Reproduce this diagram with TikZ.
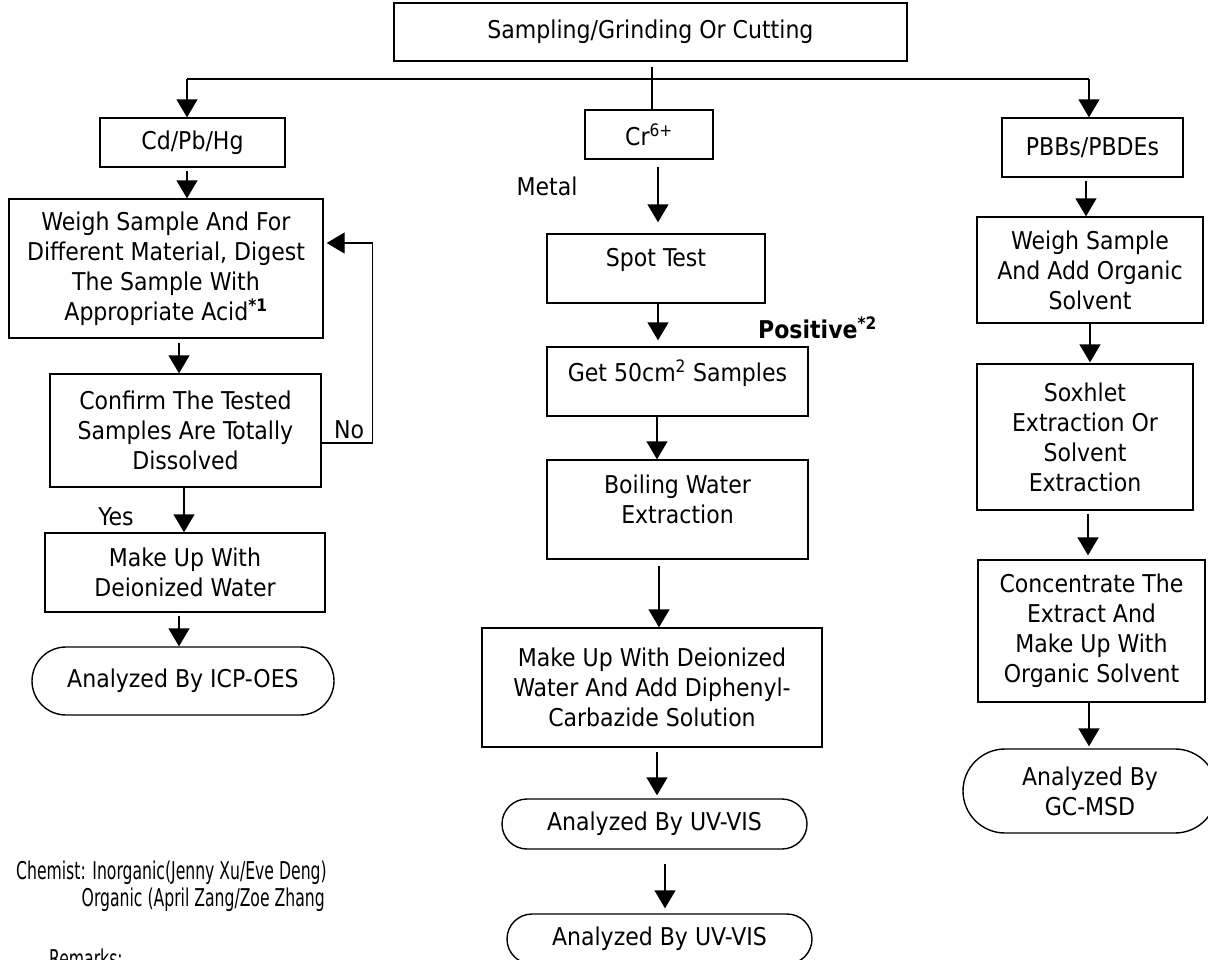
\documentclass[tikz,border=0pt]{standalone}
\usepackage{fontspec}
\setmainfont{DejaVu Sans Condensed}
\usetikzlibrary{arrows.meta}
\tikzset{
  lw/.style={line width=1.4pt},
  txt/.style={font=\fontsize{24.5}{30}\selectfont, align=center, inner sep=0pt},
  box/.style={draw, lw, txt},
  term/.style={draw, lw, txt},
  arr/.style={lw, -{Triangle[width=21pt,length=18pt]}},
}
\newcommand{\narrowtext}[1]{\scalebox{0.71}[1]{#1}}
\begin{document}
\begin{tikzpicture}[x=1pt,y=-1pt]
\useasboundingbox (0,0) rectangle (1208,959);
\clip (0,0) rectangle (1208,959);
% top
\node[box, minimum width=513pt, minimum height=58pt] (top) at (650.5,32) {Sampling/Grinding Or Cutting};
% category boxes
\node[box, minimum width=185pt, minimum height=49pt] (cd) at (192.5,142.5) {Cd/Pb/Hg};
\node[box, minimum width=128pt, minimum height=49pt] (cr) at (649,134.5) {Cr\textsuperscript{6+}};
\node[box, minimum width=181pt, minimum height=59pt] (pbb) at (1092.5,147.5) {PBBs/PBDEs};
% left column
\node[box, minimum width=314pt, minimum height=139pt] (weigh1) at (166,268.5) {Weigh Sample And For\\Different Material, Digest\\The Sample With\\Appropriate Acid\textsuperscript{\bfseries *1}};
\node[box, minimum width=271pt, minimum height=113pt] (confirm) at (185.5,430.5) {Confirm The Tested\\Samples Are Totally\\Dissolved};
\node[box, minimum width=280pt, minimum height=79pt] (make1) at (185,572.5) {Make Up With\\Deionized Water};
\node[term, minimum width=302pt, minimum height=68pt, rounded corners=34pt] (icp) at (183,681) {Analyzed By ICP-OES};
% middle column
\node[box, minimum width=218pt, minimum height=69pt] (spot) at (656,268.5) {};
\node[txt] (spott) at (656,260) {Spot Test};
\node[box, minimum width=261pt, minimum height=69pt] (get) at (677.5,381.5) {};
\node[txt] (gett) at (677.5,373) {Get 50cm\textsuperscript{2} Samples};
\node[box, minimum width=261pt, minimum height=99pt] (boil) at (677.5,509.5) {};
\node[txt] (boilt) at (677.5,499) {Boiling Water\\Extraction};
\node[box, minimum width=340pt, minimum height=119pt] (make2) at (652,687.5) {Make Up With Deionized\\Water And Add Diphenyl-\\Carbazide Solution};
\node[term, minimum width=305pt, minimum height=50pt, rounded corners=25pt] (uv1) at (654.5,824) {Analyzed By UV-VIS};
\node[term, minimum width=305pt, minimum height=50pt, rounded corners=25pt] (uv2) at (659.5,939) {Analyzed By UV-VIS};
% right column
\node[box, minimum width=226pt, minimum height=106pt] (weigh2) at (1090,270) {Weigh Sample\\And Add Organic\\Solvent};
\node[box, minimum width=216pt, minimum height=146pt] (sox) at (1085,437) {Soxhlet\\Extraction Or\\Solvent\\Extraction};
\node[box, minimum width=227pt, minimum height=142pt] (conc) at (1091.5,631) {Concentrate The\\Extract And\\Make Up With\\Organic Solvent};
\node[term, minimum width=254pt, minimum height=84pt, rounded corners=42pt] (gc) at (1090,791) {Analyzed By\\GC-MSD};
% labels
\node[txt] (metal) at (547,186) {Metal};
\node[txt, font=\fontsize{24.5}{30}\selectfont\bfseries, anchor=west] (pos) at (758,328) {Positive\textsuperscript{*2}};
\node[txt] (no) at (349,430) {No};
\node[txt] (yes) at (116,517) {Yes};
\node[txt, anchor=east] (chem1) at (327,873) {\narrowtext{Chemist: Inorganic(Jenny Xu/Eve Deng)}};
\node[txt, anchor=east] (chem2) at (325,900) {\narrowtext{Organic (April Zang/Zoe Zhang}};
\node[txt, anchor=base west] (rem) at (49,967) {\narrowtext{Remarks:}};
% branching
\coordinate (bl) at (187,79);
\coordinate (br) at (1089,79);
\draw[lw] ([xshift=1.5pt,yshift=-5pt]top.south) -- ([xshift=1.5pt]top.south |- cr.north);
\draw[lw] (bl) -- (br);
\draw[arr] (bl) -- (bl |- cd.north);
\draw[arr] (br) -- (br |- pbb.north);
% left flow
\draw[arr] ([xshift=-5.5pt,yshift=-3pt]cd.south) -- ([xshift=-5.5pt]cd.south |- weigh1.north);
\draw[arr] ([xshift=13pt,yshift=-4pt]weigh1.south) -- ([xshift=13pt]weigh1.south |- confirm.north);
\draw[arr] ([xshift=-1.5pt]confirm.south) -- ([xshift=-1.5pt]confirm.south |- make1.north);
\draw[arr] ([xshift=-6pt,yshift=-3pt]make1.south) -- ([xshift=-6pt]make1.south |- icp.north);
\draw[arr] ([yshift=-12.5pt]confirm.east) -- ++(51,0) |- ([xshift=3pt,yshift=25.5pt]weigh1.east);
% middle flow
\draw[arr] ([xshift=9pt,yshift=-7pt]cr.south) -- ([xshift=9pt,yshift=11pt]cr.south |- spot.north);
\draw[arr] ([xshift=2pt]spot.south) -- ([xshift=2pt,yshift=6pt]spot.south |- get.north);
\draw[arr] ([xshift=-20.5pt]get.south) -- ([xshift=-20.5pt]get.south |- boil.north);
\draw[arr] ([xshift=-18.5pt,yshift=-6pt]boil.south) -- ([xshift=-18.5pt]boil.south |- make2.north);
\draw[arr] ([xshift=5pt,yshift=-4pt]make2.south) -- ([xshift=5pt,yshift=3pt]make2.south |- uv1.north);
\draw[arr] ([xshift=10.5pt,yshift=-14pt]uv1.south) -- ([xshift=10.5pt,yshift=5pt]uv1.south |- uv2.north);
% right flow
\draw[arr] ([xshift=-6.5pt,yshift=-3pt]pbb.south) -- ([xshift=-6.5pt]pbb.south |- weigh2.north);
\draw[arr] (weigh2.south) -- ([yshift=1pt]weigh2.south |- sox.north);
\draw[arr] ([xshift=3pt,yshift=-3pt]sox.south) -- ([xshift=3pt,yshift=4pt]sox.south |- conc.north);
\draw[arr] ([xshift=-2.5pt]conc.south) -- ([xshift=-2.5pt,yshift=2pt]conc.south |- gc.north);
\end{tikzpicture}
\end{document}
